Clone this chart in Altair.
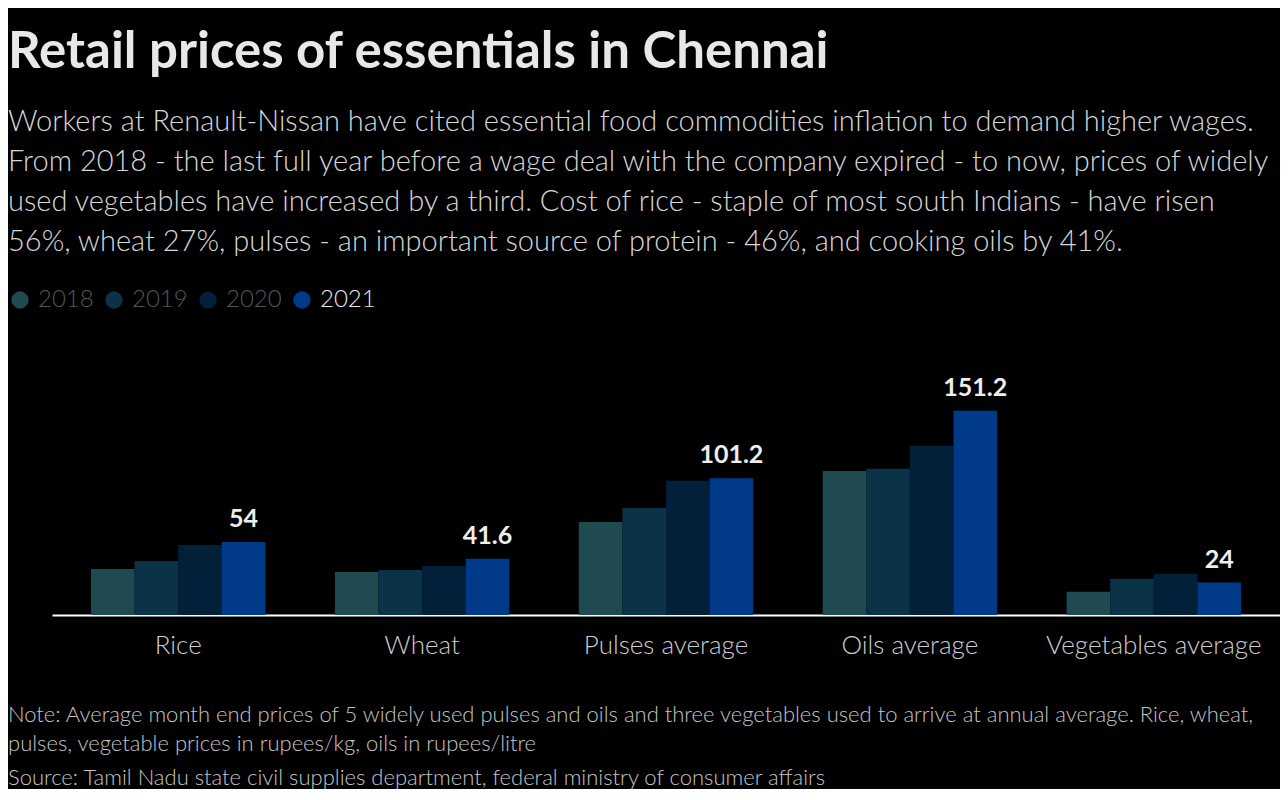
import altair as alt
import pandas as pd

categories = ["Rice", "Wheat", "Pulses average", "Oils average", "Vegetables average"]
years = ["2018", "2019", "2020", "2021"]
v2018 = [34.1, 31.9, 68.9, 106.7, 17.3]
v2019 = [40.0, 33.4, 79.3, 108.2, 26.7]
v2020 = [51.9, 36.3, 99.3, 125.3, 30.6]
v2021 = [54, 41.6, 101.2, 151.2, 24]
colors = ["#1f4a50", "#0b3347", "#03203a", "#003a88"]

title = "Retail prices of essentials in Chennai"
subtitle = [
    "Workers at Renault-Nissan have cited essential food commodities inflation to demand higher wages.",
    "From 2018 - the last full year before a wage deal with the company expired - to now, prices of widely",
    "used vegetables have increased by a third. Cost of rice - staple of most south Indians - have risen",
    "56%, wheat 27%, pulses - an important source of protein - 46%, and cooking oils by 41%.",
]
note = [
    "Note: Average month end prices of 5 widely used pulses and oils and three vegetables used to arrive at annual average. Rice, wheat,",
    "pulses, vegetable prices in rupees/kg, oils in rupees/litre",
]
source = ["Source: Tamil Nadu state civil supplies department, federal ministry of consumer affairs"]

rows = []
for yr, vals in zip(years, [v2018, v2019, v2020, v2021]):
    for c, v in zip(categories, vals):
        rows.append({"category": c, "year": yr, "value": v})
df = pd.DataFrame(rows)

FONT = "Lato"

x_enc = alt.X(
    "category:N",
    sort=categories,
    scale=alt.Scale(domain=categories, paddingInner=0.285, paddingOuter=0.16),
    axis=alt.Axis(
        title=None, labelAngle=0, labelFontSize=26, labelColor="#cccccc",
        labelFont=FONT, labelFontWeight=300, labelLimit=400, ticks=False,
        domainColor="#ffffff", domainWidth=2, labelPadding=17,
    ),
)
xo_enc = alt.XOffset("year:N", sort=years, scale=alt.Scale(domain=years))
y_enc = alt.Y(
    "value:Q",
    scale=alt.Scale(domain=[0, 211], nice=False),
    axis=alt.Axis(title=None, labels=False, ticks=False, domain=False, grid=False,
                  minExtent=44, maxExtent=44),
)

bars = alt.Chart(df).mark_bar().encode(
    x=x_enc,
    xOffset=xo_enc,
    y=y_enc,
    color=alt.Color(
        "year:N",
        scale=alt.Scale(domain=years, range=colors),
        legend=alt.Legend(
            title=None, orient="none", legendX=-44, legendY=-42, padding=0,
            direction="horizontal", symbolType="circle", symbolSize=300,
            symbolStrokeWidth=0, symbolOpacity=1, labelFontSize=24, labelFont=FONT,
            labelFontWeight=300,
            labelColor={"expr": "datum.label == '2021' ? '#e6e6e6' : '#555555'"},
            labelOffset=6, columnPadding=8,
        ),
    ),
)

labels = alt.Chart(df).transform_filter("datum.year == '2021'").mark_text(
    baseline="bottom", dy=-10, fontSize=25, fontWeight="bold", color="#eeeeee", font=FONT
).encode(
    x=alt.X("category:N", sort=categories),
    xOffset=alt.XOffset("year:N", sort=years),
    y=alt.Y("value:Q"),
    text=alt.Text("value:Q", format="~g"),
)

inner = alt.layer(bars, labels).properties(
    width=1228, height=285,
    title=alt.TitleParams(
        text=note, subtitle=source, orient="bottom", anchor="start",
        font=FONT, fontSize=22, fontWeight=300, color="#c4c4c4",
        lineHeight=29, subtitleFont=FONT, subtitleFontSize=22, subtitleFontWeight=300,
        subtitleColor="#c4c4c4", subtitlePadding=12, offset=47,
    ),
)

chart = alt.vconcat(inner).properties(
    title=alt.TitleParams(
        text=title, subtitle=subtitle, anchor="start", font=FONT, fontSize=51,
        fontWeight="bold", color="#e8e8e8", subtitleFont=FONT, subtitleFontSize=29,
        subtitleFontWeight=300, subtitleColor="#d6d6d6", subtitleLineHeight=40,
        subtitlePadding=29, offset=30,
    ),
    padding={"top": 19, "left": 0, "right": 0, "bottom": 0},
).configure(background="#000000").configure_view(stroke=None)

chart.save("out.html", embed_options={"renderer": "svg", "actions": False})
